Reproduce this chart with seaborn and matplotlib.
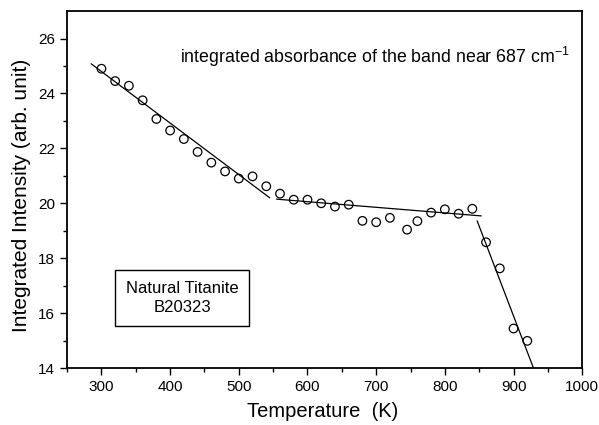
import pandas as pd
import seaborn as sns
import matplotlib.pyplot as plt

temperature = [300, 320, 340, 360, 380, 400, 420, 440, 460, 480, 500, 520, 540,
               560, 580, 600, 620, 640, 660, 680, 700, 720, 745, 760, 780, 800,
               820, 840, 860, 880, 900, 920]
intensity = [24.9, 24.45, 24.28, 23.75, 23.07, 22.65, 22.34, 21.87, 21.48, 21.16,
             20.9, 20.98, 20.62, 20.35, 20.13, 20.13, 20.0, 19.88, 19.95, 19.36,
             19.31, 19.47, 19.04, 19.35, 19.66, 19.78, 19.62, 19.8, 18.58, 17.63,
             15.44, 14.99]

# fitted line segments
fit1_x = [285, 545]
fit1_y = [25.08, 20.2]
fit2_x = [555, 853]
fit2_y = [20.15, 19.54]
fit3_x = [847, 929]
fit3_y = [19.36, 14.0]

df = pd.DataFrame({"T": temperature, "I": intensity})

sns.set_style("ticks")
plt.rcParams["font.family"] = ["Liberation Sans", "DejaVu Sans"]
plt.rcParams["text.color"] = "black"
plt.rcParams["axes.labelcolor"] = "black"
plt.rcParams["xtick.color"] = "black"
plt.rcParams["ytick.color"] = "black"

fig = plt.figure(figsize=(5.99, 4.25), dpi=100)
ax = fig.add_axes([0.112, 0.134, 0.86, 0.84])

sns.scatterplot(x="T", y="I", data=df, ax=ax, marker="o", s=38,
                facecolor="none", edgecolor="black", linewidth=0.9)
for fx, fy in [(fit1_x, fit1_y), (fit2_x, fit2_y), (fit3_x, fit3_y)]:
    sns.lineplot(x=fx, y=fy, ax=ax, color="black", linewidth=0.9)

ax.set_xlim(250, 1000)
ax.set_ylim(14, 27)
ax.set_xticks([300, 400, 500, 600, 700, 800, 900, 1000])
ax.set_xticks(range(250, 1000, 100), minor=True)
ax.set_yticks([14, 16, 18, 20, 22, 24, 26])
ax.set_yticks([15, 17, 19, 21, 23, 25], minor=True)
ax.tick_params(which="major", direction="out", length=5, width=1, labelsize=11)
ax.tick_params(which="minor", direction="out", length=3, width=1)
for sp in ax.spines.values():
    sp.set_linewidth(1.3)
    sp.set_color("black")

ax.set_xlabel("Temperature  (K)", fontsize=14.5, va="center")
ax.set_ylabel("Integrated Intensity (arb. unit)", fontsize=15, va="center")
ax.xaxis.set_label_coords(0.497, -0.123)
ax.yaxis.set_label_coords(-0.089, 0.485)

ax.text(0.219, 0.871, "integrated absorbance of the band near 687 cm$^{\\mathregular{-1}}$",
        transform=ax.transAxes, fontsize=12.8, ha="left", va="center")
ax.text(0.223, 0.196, "Natural Titanite\nB20323", transform=ax.transAxes,
        fontsize=12, ha="center", va="center", linespacing=1.35,
        bbox=dict(boxstyle="square,pad=0.65", facecolor="white",
                  edgecolor="black", linewidth=1))

fig.savefig("out.png", dpi=100)
